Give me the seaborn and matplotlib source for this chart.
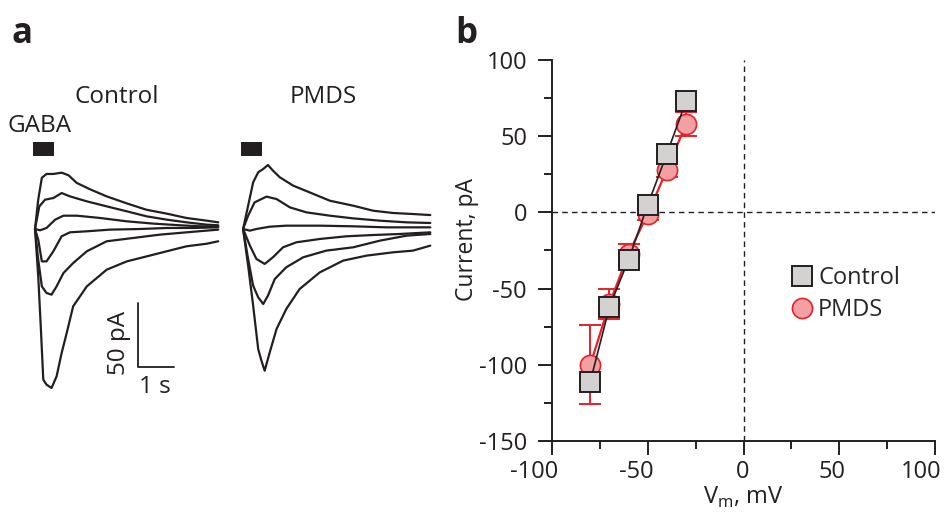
import numpy as np
import pandas as pd
import matplotlib
matplotlib.use('Agg')
import matplotlib.pyplot as plt
import matplotlib.transforms as mtransforms
from matplotlib.lines import Line2D
import seaborn as sns

# ---- panel a: whole-cell traces (time in s, current in pA) ----
ctrl_t = [
    [0, 0.09, 0.19, 0.32, 0.51, 0.74, 0.93, 1.16, 1.53, 1.99, 2.55, 3.10, 3.66, 4.21, 4.77, 5.09],
    [0, 0.12, 0.28, 0.51, 0.74, 0.97, 1.44, 1.99, 2.55, 3.10, 3.66, 4.21, 4.77, 5.09],
    [0, 0.14, 0.32, 0.56, 0.79, 1.16, 1.81, 2.55, 3.29, 4.03, 4.58, 5.09],
    [0, 0.09, 0.19, 0.32, 0.51, 0.74, 0.97, 1.44, 2.08, 2.92, 3.66, 4.40, 5.09],
    [0, 0.09, 0.19, 0.32, 0.46, 0.60, 0.79, 1.06, 1.44, 1.99, 2.73, 3.47, 4.21, 5.09],
    [0, 0.09, 0.16, 0.23, 0.32, 0.46, 0.60, 0.74, 0.88, 1.06, 1.44, 1.99, 2.55, 3.10, 3.66, 4.21, 4.77, 5.09],
]
ctrl_i = [
    [0, 23, 40, 43, 43, 44, 42, 36, 31, 25.5, 20, 15, 12, 8.6, 6.5, 5.2],
    [0, 17.7, 22.9, 24.2, 28.1, 25.5, 21.6, 17.7, 13.8, 9.9, 7.3, 5.2, 3.4, 2.9],
    [0, -1, 0.8, 7.3, 10.4, 10.4, 8.6, 6.0, 4.2, 2.9, 2.1, 2.1],
    [0, -8.3, -25.3, -25.3, -17.4, -5.7, -2.6, -1.8, -0.5, 0, 0.8, 0.8, 1.3],
    [0, -24, -44.8, -50, -51.3, -44.8, -34.4, -26.6, -17.4, -9.6, -7.0, -4.4, -2.6, -0.5],
    [0, -37, -76, -117.7, -121.6, -124.2, -115.1, -96.9, -81.3, -60.4, -44.8, -31.8, -25.3, -21.4, -17.4, -13.5, -11.5, -9.6],
]
pmds_t = [
    [0, 0.14, 0.28, 0.42, 0.56, 0.69, 0.83, 1.02, 1.39, 1.85, 2.41, 3.06, 3.61, 4.17, 4.72, 5.20],
    [0, 0.14, 0.32, 0.65, 0.93, 1.30, 1.76, 2.41, 3.06, 3.80, 4.54, 5.20],
    [0, 0.19, 0.37, 0.74, 1.20, 2.13, 3.06, 3.98, 5.20],
    [0, 0.19, 0.37, 0.60, 0.83, 1.11, 1.48, 2.13, 2.87, 3.61, 4.35, 5.20],
    [0, 0.14, 0.28, 0.42, 0.56, 0.69, 0.88, 1.20, 1.67, 2.31, 3.06, 3.80, 4.54, 5.20],
    [0, 0.14, 0.28, 0.42, 0.51, 0.60, 0.74, 0.93, 1.20, 1.57, 2.13, 2.78, 3.43, 4.17, 4.72, 5.20],
]
pmds_i = [
    [0, 18.2, 36.5, 44.3, 46.9, 50, 45.6, 40.4, 33.9, 28.6, 22.1, 18.2, 14.3, 12.5, 11.7, 10.9],
    [0, 10.4, 20.8, 25.3, 23.4, 16.9, 13.0, 10.4, 8.3, 6.5, 5.2, 4.7],
    [0, -1.3, 0, 1.8, 2.6, 2.6, 2.1, 1.3, 1.3],
    [0, -13, -23.4, -27.3, -22.1, -14.3, -10.4, -7.8, -5.7, -4.7, -3.9, -2.6],
    [0, -23.4, -44.3, -53.4, -58.6, -52.1, -39.1, -29.9, -22.1, -16.9, -14.3, -9.1, -5.2, -3.9],
    [0, -28.6, -59.9, -93.8, -102.9, -110.7, -96.4, -78.1, -62.5, -46.9, -33.9, -24.7, -20.8, -18.2, -16.9, -13.0],
]

# ---- panel b: I-V relation ----
vm = [-80, -70, -60, -50, -40, -30]
ctrl_iv = [-111, -62, -31, 5, 38.5, 73]
pmds_iv = [-100, -60, -27, -1, 28, 58]
pmds_err = [26, 10, 6, 4, 5, 8]

sns.set_style('ticks')
plt.rcParams['font.family'] = ['Open Sans', 'DejaVu Sans']
plt.rcParams['axes.unicode_minus'] = False
plt.rcParams['mathtext.fontset'] = 'custom'
plt.rcParams['mathtext.rm'] = 'Open Sans'

INK = '#231f20'
W, H = 946, 512
fig = plt.figure(figsize=(W / 100, H / 100), dpi=100)

def fx(px):
    return px / W

def fy(py):
    return 1 - py / H

# ---- panel a ----
shift = 5.78  # PMDS traces start to the right of control
rows = []
for k, (ts, cs) in enumerate(zip(ctrl_t, ctrl_i)):
    rows += [('c%d' % k, t, c) for t, c in zip(ts, cs)]
for k, (ts, cs) in enumerate(zip(pmds_t, pmds_i)):
    rows += [('p%d' % k, t + shift, c) for t, c in zip(ts, cs)]
traces = pd.DataFrame(rows, columns=['trace', 't', 'i'])

axa = fig.add_axes([0, fy(420), fx(440), (420 - 80) / H])
sns.lineplot(data=traces, x='t', y='i', units='trace', estimator=None,
             sort=False, color=INK, lw=1.6, legend=False, ax=axa)
axa.set_xlim(-35 / 36, 405 / 36)
axa.set_ylim((229 - 420) / 1.28, (229 - 80) / 1.28)
axa.axis('off')

# GABA application bars
for t0 in (0, shift):
    axa.fill_between([t0 - 0.06, t0 + 0.53], 57, 68, color=INK, lw=0)
# scale bar: 50 pA / 1 s
axa.plot([2.86, 2.86, 3.86], [-57.8, -107.8, -107.8], color=INK, lw=1.3)

tkw = dict(ha='center', va='center', fontsize=17.5, color=INK)
fig.text(fx(117), fy(97), 'Control', **tkw)
fig.text(fx(323), fy(97), 'PMDS', **tkw)
fig.text(fx(40), fy(126), 'GABA', **tkw)
fig.text(fx(119), fy(343), '50 pA', rotation=90, **tkw)
fig.text(fx(155), fy(387), '1 s', **tkw)

fig.text(fx(11), fy(43), 'a', fontsize=25, fontweight='bold', va='baseline', color=INK)
fig.text(fx(455), fy(43), 'b', fontsize=25, fontweight='bold', va='baseline', color=INK)

# ---- panel b ----
axb = fig.add_axes([fx(552), fy(441), fx(935 - 552), (441 - 60) / H])
axb.axhline(0, color=INK, ls=(0, (4, 3)), lw=1, zorder=0)
axb.axvline(0, color=INK, ls=(0, (4, 3)), lw=1, zorder=0)

axb.errorbar(vm, pmds_iv, yerr=pmds_err, fmt='none', ecolor='#e8202a',
             elinewidth=1.4, capsize=8, capthick=1.4, zorder=1)
sns.lineplot(x=vm, y=pmds_iv, color='#e8202a', lw=1.6, marker='o',
             markersize=14.5, markerfacecolor='#f4a0a3',
             markeredgecolor='#e8202a', markeredgewidth=1.2, ax=axb, zorder=2)
sns.lineplot(x=vm, y=ctrl_iv, color=INK, lw=1.2, marker='s',
             markersize=14.5, markerfacecolor='#d3d2d0',
             markeredgecolor=INK, markeredgewidth=1.4, ax=axb, zorder=3)

axb.set_xlim(-100, 100)
axb.set_ylim(-150, 100)
axb.set_xticks([-100, -50, 0, 50, 100])
axb.set_yticks([-150, -100, -50, 0, 50, 100])
axb.set_xticks(np.arange(-75, 100, 50), minor=True)
axb.set_yticks(np.arange(-125, 100, 50), minor=True)
sns.despine(ax=axb)
for s in ('left', 'bottom'):
    axb.spines[s].set_linewidth(1.4)
    axb.spines[s].set_color(INK)
axb.tick_params(which='major', length=10, width=1.4, color=INK,
                labelsize=17, labelcolor=INK)
axb.tick_params(axis='x', which='major', pad=4)
axb.tick_params(axis='y', which='major', pad=8)
axb.tick_params(which='minor', length=6, width=1.4, color=INK)
# x tick labels sit right-aligned just past their ticks, as in the original
shift_x = mtransforms.ScaledTranslation(6 / 100, 0, fig.dpi_scale_trans)
for lab in axb.get_xticklabels():
    lab.set_horizontalalignment('right')
    lab.set_transform(lab.get_transform() + shift_x)
axb.set_xlabel('V$_\\mathrm{m}$, mV', fontsize=17, labelpad=0, color=INK)
axb.set_ylabel('Current, pA', fontsize=16.5, color=INK)
axb.yaxis.set_label_coords(-0.19, 0.53)

handles = [
    Line2D([], [], ls='none', marker='s', markersize=14.5, markerfacecolor='#d3d2d0',
           markeredgecolor=INK, markeredgewidth=1.4, label='Control'),
    Line2D([], [], ls='none', marker='o', markersize=14.5, markerfacecolor='#f4a0a3',
           markeredgecolor='#e8202a', markeredgewidth=1.2, label='PMDS'),
]
axb.legend(handles=handles, loc='upper left', bbox_to_anchor=(fx(791), fy(266)),
           bbox_transform=fig.transFigure, frameon=False, fontsize=17,
           handlelength=0.9, handletextpad=0.25, labelspacing=0.33,
           borderpad=0, borderaxespad=0)

fig.savefig('out.png', dpi=100)
